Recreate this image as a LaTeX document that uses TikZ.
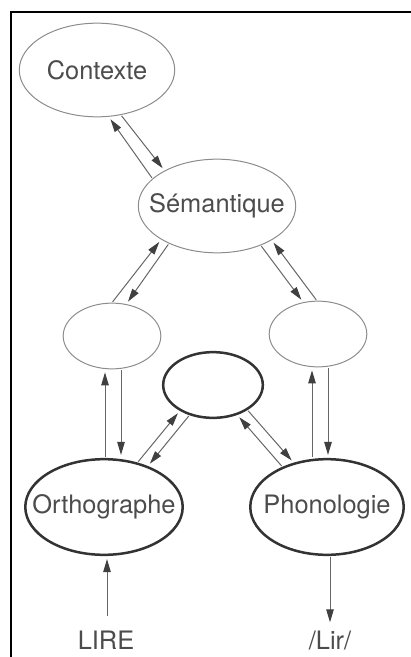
\documentclass[tikz,border=0pt]{standalone}
\usepackage{fontspec}
\setmainfont{TeX Gyre Heros}
\usetikzlibrary{shapes.geometric,arrows.meta,calc}
\newcommand\etiq[1]{\makebox[0pt]{#1}}

\begin{document}
\begin{tikzpicture}[x=1bp,y=1bp,
  every node/.style={inner sep=0pt,text=black!70,font=\fontsize{25.5}{28}\selectfont},
  bulle/.style={ellipse,draw=black!45,line width=1bp},
  grasse/.style={ellipse,draw=black!80,line width=2.5bp},
  fl/.style={draw=black!60,line width=1bp,-{Triangle[length=13bp,width=7.5bp,color=black!75]},shorten >=3bp,shorten <=1bp}]
\useasboundingbox (0,0) rectangle (410,-657);
\draw [line width=2.2bp] (11,-670) -- (11,-12) -- (420,-12);

\node [bulle,minimum width=156,minimum height=94] (ctx) at (97,-70) {\etiq{Contexte}};
\node [bulle,minimum width=158,minimum height=94] (sem) at (217,-206) {\etiq{Sémantique}};
\node [bulle,minimum width=98,minimum height=66] (gau) at (112,-336) {};
\node [bulle,minimum width=98,minimum height=66] (dro) at (318,-334) {};
\node [grasse,minimum width=100,minimum height=66] (mil) at (213,-385) {};
\node [grasse,minimum width=158,minimum height=96] (ort) at (104,-507) {\etiq{Orthographe}};
\node [grasse,minimum width=154,minimum height=96] (pho) at (327,-507) {\etiq{Phonologie}};
\node (lire) at (106,-640) {LIRE};
\node (lir) at (330,-640) {/Lir/};

\draw [fl] (sem.157) -- (ctx.-76);
\draw [fl] (ctx.-62) -- (sem.146);
\draw [fl] (gau.90) -- (sem.211);
\draw [fl] (sem.218) -- (gau.66);
\draw [fl] (sem.-42) -- (dro.115);
\draw [fl] (dro.92) -- (sem.-32);

\draw [fl] ($(ort.north)+(1,0)$) -- ($(gau.south)+(-7,0)$);
\draw [fl] ($(gau.south)+(9,0)$) -- ($(ort.north)+(17,0)$);
\draw [fl] ($(pho.north)+(-15,0)$) -- ($(dro.south)+(-6,0)$);
\draw [fl] ($(dro.south)+(10,0)$) -- ($(pho.north)+(1,0)$);

\draw [fl] (ort.53) -- (mil.218);
\draw [fl] (mil.232) -- (ort.43);
\draw [fl] (pho.138) -- (mil.-51);
\draw [fl] (mil.-36) -- (pho.127);

\draw [fl,shorten <=15bp] ($(lire.north)+(1,0)$) -- ($(ort.south)+(3,0)$);
\draw [fl,shorten >=8bp] ($(pho.south)+(3,0)$) -- ($(lir.north)+(0,0)$);
\end{tikzpicture}
\end{document}
